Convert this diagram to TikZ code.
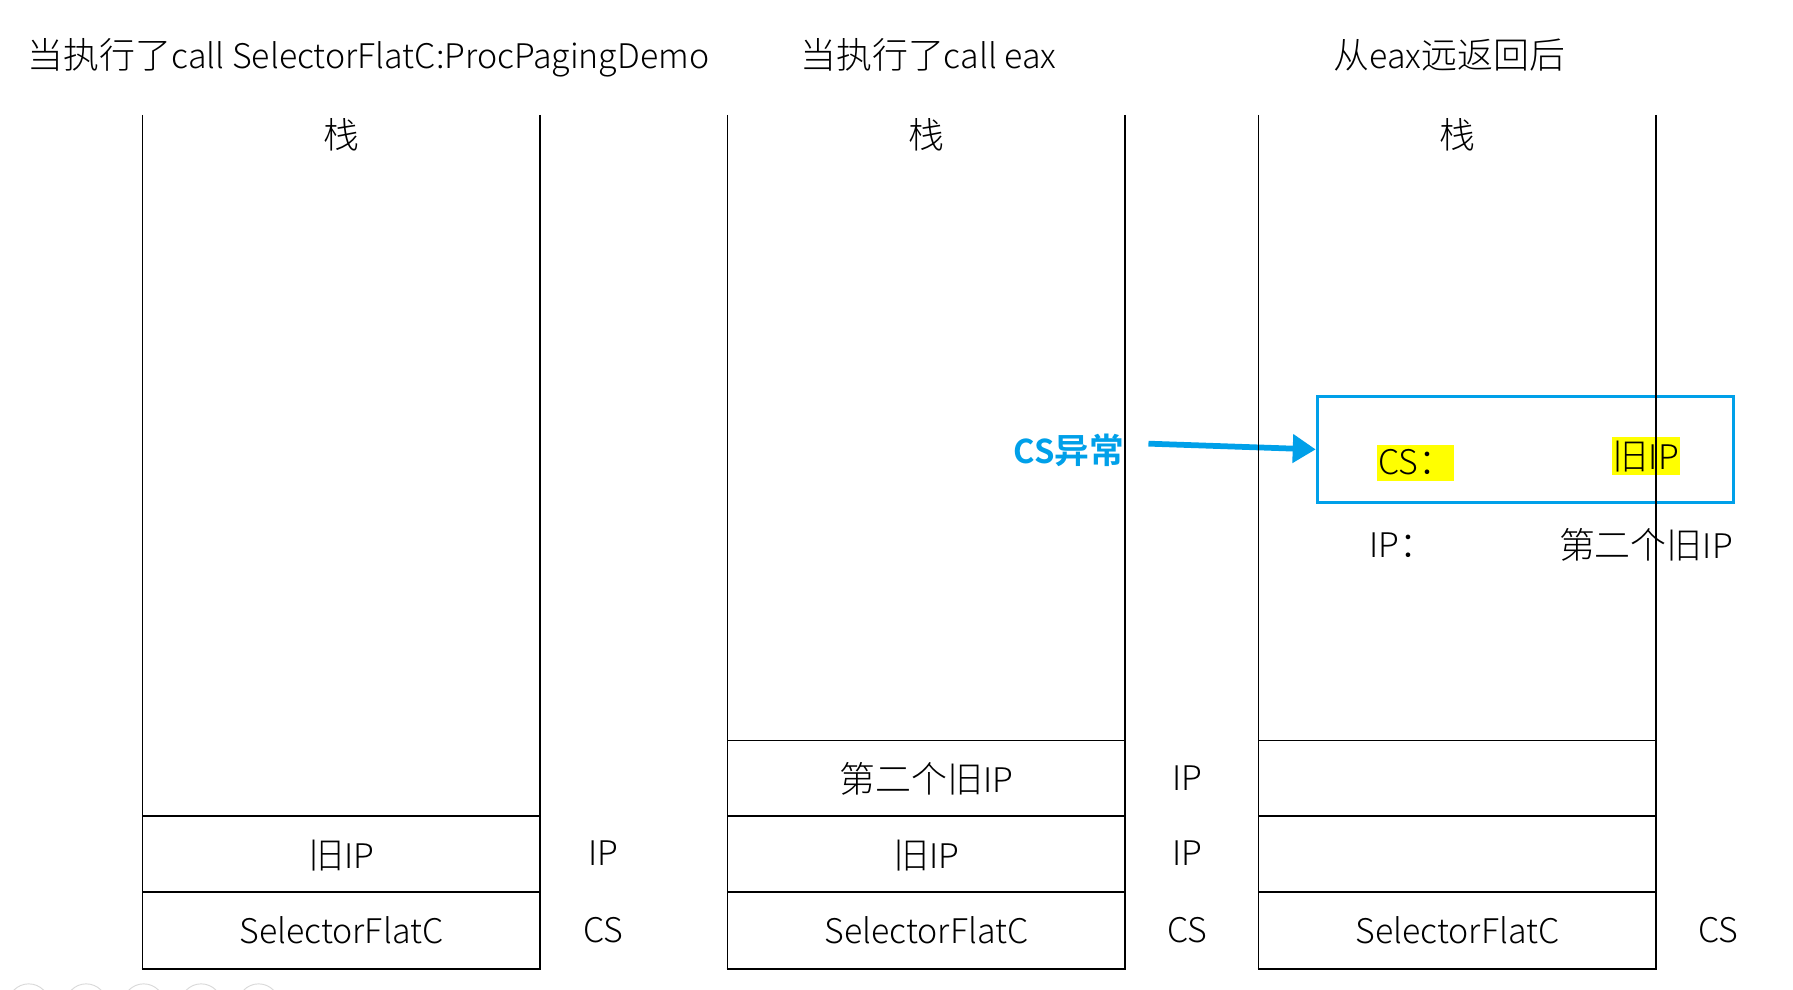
\documentclass[tikz,border=0pt]{standalone}
\usepackage{fontspec}
\setmainfont{Noto Sans CJK SC}[UprightFont={* Light}, BoldFont={* Bold}]
\newfontfamily\cjkf{Noto Sans CJK SC}[UprightFont={* Light}, BoldFont={* Bold}, Scale=1.06]
\newcommand\zh[1]{{\cjkf #1}}
\usetikzlibrary{arrows.meta}
\definecolor{csblue}{RGB}{0,160,233}
\definecolor{hl}{RGB}{255,255,0}
\begin{document}
\begin{tikzpicture}[x=1pt,y=-1pt,
  lab/.style={font=\fontsize{29.5}{29.5}\selectfont, inner sep=0pt, anchor=center},
  ttl/.style={font=\fontsize{29.5}{29.5}\selectfont, inner sep=0pt, anchor=west},
  frame/.style={line width=1.6pt},
  base/.style={line width=2.2pt},
  div/.style={line width=1.1pt},
  hlbox/.style={fill=hl, inner sep=0pt},
  excarrow/.style={draw=csblue, line width=5pt, -{Triangle[length=20pt,width=24pt]}},
  uibtn/.style={draw=black!15, line width=0.8pt, circle, minimum size=36pt, inner sep=0pt},
]
\useasboundingbox (0,0) rectangle (1560,861);
\fill[white] (0,0) rectangle (1560,861);

% titles
\node[ttl] (t1) at (24,50) {\zh{当执行了}call SelectorFlatC:ProcPagingDemo};
\node[ttl] (t2) at (696,48) {\zh{当执行了}call eax};
\node[ttl] (t3) at (1160,48) {\zh{从}eax\zh{远返回后}};

% stack headers
\node[lab] (h1) at (297,117) {\zh{栈}};
\node[lab] (h2) at (806,117) {\zh{栈}};
\node[lab] (h3) at (1268,117) {\zh{栈}};

% stack 1 contents
\node[lab] (a1) at (297,744) {\zh{旧}IP};
\node[lab] (a2) at (297,809) {SelectorFlatC};
\node[lab] (ar1) at (525,742) {IP};
\node[lab] (ar2) at (525,809) {CS};

% stack 2 contents
\node[lab] (b0) at (806,678) {\zh{第二个旧}IP};
\node[lab] (b1) at (806,744) {\zh{旧}IP};
\node[lab] (b2) at (806,809) {SelectorFlatC};
\node[lab] (br0) at (1033,677) {IP};
\node[lab] (br1) at (1033,742) {IP};
\node[lab] (br2) at (1033,809) {CS};

% stack 3 contents
\node[lab] (c2) at (1268,809) {SelectorFlatC};
\node[lab] (cr2) at (1495,809) {CS};

% exception note
\node[hlbox, minimum width=67pt, minimum height=31pt, anchor=north west] (csbg) at (1198,387) {};
\node[lab, anchor=west] (cs) at (1199,402) {CS\zh{：}};
\node[lab, hlbox, inner xsep=1pt, inner ysep=3pt] (oip) at (1432,397) {\zh{旧}IP};
\node[lab] (ip) at (1220,474) {IP\zh{：}};
\node[lab] (sip) at (1432,474) {\zh{第二个旧}IP};
\node[draw=csblue, line width=2.5pt, minimum width=362pt, minimum height=92pt, inner sep=0pt] (box) at (1327,391) {};
\node[font=\fontsize{28.5}{28.5}\selectfont\bfseries, text=csblue, inner sep=0pt] (exc) at (930,392) {CS\zh{异常}};
\draw[excarrow] ([shift={(21,-6)}]exc.east) -- (box.west);

% stack 1
\draw[frame] (124,100) -- (124,843);
\draw[frame] (470,100) -- (470,843);
\draw[base] (123.2,843) -- (470.8,843);
\draw[div] (124,710) -- (470,710);
\draw[div] (124,776) -- (470,776);

% stack 2
\draw[frame] (633,100) -- (633,843);
\draw[frame] (979,100) -- (979,843);
\draw[base] (632.2,843) -- (979.8,843);
\draw[div] (633,644) -- (979,644);
\draw[div] (633,710) -- (979,710);
\draw[div] (633,776) -- (979,776);

% stack 3
\draw[frame] (1095,100) -- (1095,843);
\draw[frame] (1441,100) -- (1441,843);
\draw[base] (1094.2,843) -- (1441.8,843);
\draw[div] (1095,644) -- (1441,644);
\draw[div] (1095,710) -- (1441,710);
\draw[div] (1095,776) -- (1441,776);

% faint viewer buttons at the bottom edge
\foreach \i/\x in {1/25,2/75,3/125,4/175,5/225}
  \node[uibtn] (u\i) at (\x,874) {};
\end{tikzpicture}
\end{document}
